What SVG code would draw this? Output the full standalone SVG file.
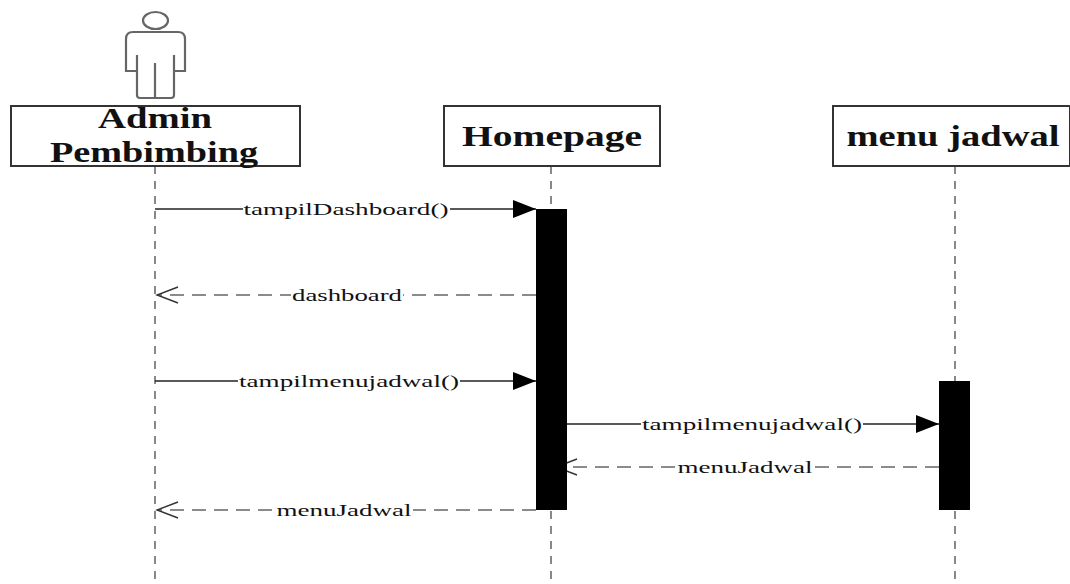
<svg xmlns="http://www.w3.org/2000/svg" width="1070" height="584" viewBox="0 0 1070 584">
<style>
.box{fill:#fff;stroke:#333;stroke-width:2}
.life{stroke:#888;stroke-width:2;stroke-dasharray:8 7;fill:none}
.bar{fill:#000}
.msg{stroke:#222;stroke-width:1.6;fill:none}
.ret{stroke:#666;stroke-width:1.4;stroke-dasharray:14 8;fill:none}
.lbl{font-family:"Liberation Serif",serif;font-size:17px;fill:#111;text-anchor:middle}
.ttl{font-family:"Liberation Serif",serif;font-size:30px;font-weight:bold;fill:#111;text-anchor:middle}
.bg{fill:#fff}
</style>
<defs>
<marker id="solid" markerUnits="userSpaceOnUse" markerWidth="24" markerHeight="20" refX="23" refY="9" orient="auto"><path d="M0 0L23 9L0 18Z" fill="#000"/></marker>
<marker id="open" markerUnits="userSpaceOnUse" markerWidth="24" markerHeight="20" refX="22" refY="9" orient="auto"><path d="M1 1L22 9L1 17" fill="none" stroke="#333" stroke-width="1.4"/></marker>
</defs>
<rect width="1070" height="584" fill="#fff"/>
<g id="lifelines">
<path class="life" d="M155 166V584"/>
<path class="life" d="M551 166V584"/>
<path class="life" d="M955 166V584"/>
</g>
<g id="actor-admin" fill="none" stroke="#666" stroke-width="2.2">
<ellipse cx="155.500" cy="20.500" rx="12.500" ry="8.500"/>
<path d="M137 71H126V39Q126 32 133 32H178Q185 32 185 39V71H174"/>
<path d="M137 55V95Q137 98 140 98H171Q174 98 174 95V55M155 63V98"/>
</g>
<g id="node-admin">
<rect class="box" x="11" y="106" width="289" height="60"/>
<text class="ttl" x="155" y="128" textLength="114" lengthAdjust="spacingAndGlyphs">Admin</text>
<text class="ttl" x="154" y="162" textLength="208" lengthAdjust="spacingAndGlyphs">Pembimbing</text>
</g>
<g id="node-homepage">
<rect class="box" x="444" y="106" width="216" height="60"/>
<text class="ttl" x="552" y="146" textLength="180" lengthAdjust="spacingAndGlyphs">Homepage</text>
</g>
<g id="node-menu">
<rect class="box" x="833" y="106" width="237" height="60"/>
<text class="ttl" x="953" y="146" textLength="213" lengthAdjust="spacingAndGlyphs">menu jadwal</text>
</g>
<g id="connectors">
<path class="msg" d="M155 209H536" marker-end="url(#solid)"/>
<path class="ret" d="M536 295H157" marker-end="url(#open)"/>
<path class="msg" d="M155 381H536" marker-end="url(#solid)"/>
<path class="msg" d="M567 424H939" marker-end="url(#solid)"/>
<path class="ret" d="M939 467H556" marker-end="url(#open)"/>
<path class="ret" d="M536 510H157" marker-end="url(#open)"/>
</g>
<g id="activations">
<rect class="bar" x="536" y="209" width="31" height="301"/>
<rect class="bar" x="939" y="381" width="31" height="129"/>
</g>
<g id="labels">
<rect class="bg" x="243" y="199" width="207" height="20"/>
<text class="lbl" x="346" y="215" textLength="205" lengthAdjust="spacingAndGlyphs">tampilDashboard()</text>
<rect class="bg" x="291" y="285" width="112" height="20"/>
<text class="lbl" x="347" y="301" textLength="110" lengthAdjust="spacingAndGlyphs">dashboard</text>
<rect class="bg" x="238" y="371" width="222" height="20"/>
<text class="lbl" x="349" y="387" textLength="220" lengthAdjust="spacingAndGlyphs">tampilmenujadwal()</text>
<rect class="bg" x="641" y="414" width="222" height="20"/>
<text class="lbl" x="752" y="430" textLength="220" lengthAdjust="spacingAndGlyphs">tampilmenujadwal()</text>
<rect class="bg" x="677" y="457" width="137" height="20"/>
<text class="lbl" x="745" y="473" textLength="135" lengthAdjust="spacingAndGlyphs">menuJadwal</text>
<rect class="bg" x="276" y="500" width="137" height="20"/>
<text class="lbl" x="344" y="516" textLength="135" lengthAdjust="spacingAndGlyphs">menuJadwal</text>
</g>
</svg>
